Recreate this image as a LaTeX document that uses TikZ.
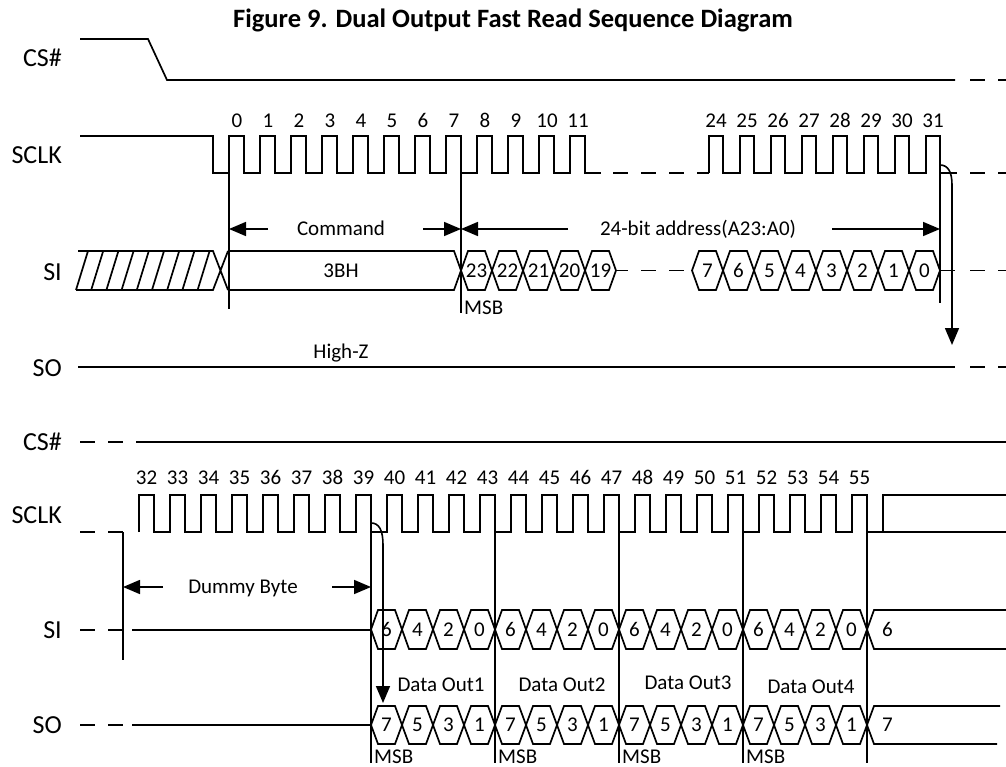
\documentclass[tikz,border=0pt]{standalone}
\usepackage{fontspec}
\setmainfont{Carlito}
\usetikzlibrary{arrows.meta}

\begin{document}
\begin{tikzpicture}
    [x=1pt,y=-1pt,
     wave/.style={line width=1.7pt},
     guide/.style={line width=1.3pt},
     brk/.style={line width=1.7pt,dash pattern=on 15pt off 13pt},
     dim/.style={-{Triangle[length=17pt,width=14pt]},line width=1.6pt},
     sig/.style={anchor=east,inner sep=0pt,font=\fontsize{26}{30}\selectfont},
     txt/.style={inner sep=0pt,text height=13.5pt,text depth=0pt,
       font=\fontsize{21}{25}\selectfont}]
  \useasboundingbox (0,0) rectangle (1006,767);
  \node[font=\bfseries\fontsize{26.5}{30}\selectfont] (title) at (513,20)
    {Figure 9. Dual Output Fast Read Sequence Diagram};

  % signal names
  \node[sig] (cs1) at (62,58) {CS\#};
  \node[sig] (sclk1) at (62,155) {SCLK};
  \node[sig] (si1) at (62,272) {SI};
  \node[sig] (so1) at (62,368) {SO};
  \node[sig] (cs2) at (62,442) {CS\#};
  \node[sig] (sclk2) at (62,515) {SCLK};
  \node[sig] (si2) at (62,630) {SI};
  \node[sig] (so2) at (62,725) {SO};

  % ---- first part: command and address ----
  \draw[wave] (80,39) -- (148,39) -- (167,80) -- (955,80);
  \draw[brk] (970,80) -- (1006,80);

  \draw[wave] (80,136) -- (213,136) -- (213,173) -- (229,173)
    \foreach \k in {0,...,11} {-- ++(0,-37) -- ++(15,0) -- ++(0,37) -- ++(16,0)};
  \draw[brk] (613,173) -- (709,173);
  \draw[wave] (709,173)
    \foreach \k in {24,...,31} {-- ++(0,-37) -- ++(14,0) -- ++(0,37) -- ++(17,0)};
  \draw[brk] (970,173) -- (1006,173);
  \foreach \n in {0,...,11} \node[txt] (c\n) at (237+31*\n,121) {\n};
  \foreach \n in {24,...,31} \node[txt] (c\n) at (31*\n-28,121) {\n};

  % don't care, then 3BH
  \draw[wave] (78,251) -- (213,251) -- (228,290) (76,290) -- (213,290) -- (228,251);
  \foreach \k in {0,...,8} \draw[wave] (76+15.2*\k,290) -- ++(12,-39);
  \draw[wave] (228,251) -- (454,251) -- (461,270.5) -- (454,290) -- (228,290);
  \node[txt] (cmdval) at (341,270.5) {3BH};

  \foreach \v [count=\i from 0] in {23,22,21,20,19} {
    \draw[wave] (461+31*\i,270.5) -- ++(7,-19.5) -- ++(17,0) -- ++(7,19.5)
      -- ++(-7,19.5) -- ++(-17,0) -- cycle;
    \node[txt] (a\v) at (476.5+31*\i,270.5) {\v};
  }
  \draw[wave] (616,270.5) -- (628,270.5);
  \draw[brk] (641,270.5) -- (692,270.5);
  \foreach \v [count=\i from 0] in {7,6,5,4,3,2,1,0} {
    \draw[wave] (692+31*\i,270.5) -- ++(7,-19.5) -- ++(17,0) -- ++(7,19.5)
      -- ++(-7,19.5) -- ++(-17,0) -- cycle;
    \node[txt] (b\v) at (707.5+31*\i,270.5) {\v};
  }
  \draw[wave] (940,270.5) -- (955,270.5);
  \draw[brk] (970,270.5) -- (1006,270.5);

  \draw[guide] (229,173) -- (229,309);
  \draw[guide] (461,173) -- (461,313);
  \draw[guide] (940,173) -- (940,303);

  \node[txt] (cmd) at (341,229) {Command};
  \coordinate (cmdL) at (268,229);
  \coordinate (cmdR) at (423,229);
  \coordinate (cmdS) at (229,229);
  \coordinate (cmdE) at (461,229);
  \draw[dim] (cmdL) -- (cmdS);
  \draw[dim] (cmdR) -- (cmdE);
  \node[txt] (addr) at (698,229) {24-bit address(A23:A0)};
  \coordinate (adrL) at (568,229);
  \coordinate (adrR) at (832,229);
  \coordinate (adrE) at (940,229);
  \draw[dim] (adrL) -- (cmdE);
  \draw[dim] (adrR) -- (adrE);
  \node[txt,anchor=west] (msb0) at (464,308) {MSB};

  \coordinate (turn1) at (940,165);
  \coordinate (out1) at (952,345);
  \draw[dim] (turn1) .. controls (948,165) and (952,172) .. (952,185) -- (out1);

  \draw[wave] (78,367) -- (955,367);
  \draw[brk] (970,367) -- (1006,367);
  \node[txt] (hiz) at (341,352) {High-Z};

  % ---- second part: dummy byte and data ----
  \draw[brk] (80,442) -- (1006,442);
  \draw[wave] (137,442) -- (1006,442);

  \draw[brk] (80,532) -- (123,532);
  \draw[wave] (139,532)
    \foreach \k in {32,...,55} {-- ++(0,-37) -- ++(15,0) -- ++(0,37) -- ++(16,0)}
    -- ++(0,-37) -- (1006,495);
  \draw[wave] (883,532) -- (1006,532);
  \foreach \n in {32,...,55} \node[txt] (c\n) at (31*\n-845.5,478) {\n};

  \draw[guide] (123,532) -- (123,660);
  \foreach \x in {371,495,619,743,867} \draw[guide] (\x,532) -- (\x,763);

  \node[txt] (dummy) at (243,587) {Dummy Byte};
  \coordinate (dumL) at (163,587);
  \coordinate (dumS) at (123,587);
  \coordinate (dumR) at (332,587);
  \coordinate (dumE) at (371,587);
  \draw[dim] (dumL) -- (dumS);
  \draw[dim] (dumR) -- (dumE);

  \coordinate (turn2) at (371,523);
  \coordinate (out2) at (383,703);
  \draw[dim] (turn2) .. controls (379,523) and (383,530) .. (383,545) -- (out2);

  \draw[brk] (80,630) -- (123,630);
  \draw[wave] (132,630) -- (371,630);
  \foreach \v [count=\i from 0] in {6,4,2,0,6,4,2,0,6,4,2,0,6,4,2,0} {
    \draw[wave] (371+31*\i,629.5) -- ++(7,-19.5) -- ++(17,0) -- ++(7,19.5)
      -- ++(-7,19.5) -- ++(-17,0) -- cycle;
    \node[txt] (i\i) at (386.5+31*\i,629.5) {\v};
  }
  \draw[wave] (1006,610) -- (874,610) -- (867,629.5) -- (874,649) -- (1006,649);
  \node[txt,anchor=west] (inext) at (882,629.5) {6};

  \draw[brk] (80,725) -- (123,725);
  \draw[wave] (132,725) -- (371,725);
  \foreach \v [count=\i from 0] in {7,5,3,1,7,5,3,1,7,5,3,1,7,5,3,1} {
    \draw[wave] (371+31*\i,725) -- ++(7,-19) -- ++(17,0) -- ++(7,19)
      -- ++(-7,19) -- ++(-17,0) -- cycle;
    \node[txt] (o\i) at (386.5+31*\i,725) {\v};
  }
  \draw[wave] (1000,706) -- (874,706) -- (867,725) -- (874,744) -- (997,744);
  \node[txt,anchor=west] (onext) at (882,725) {7};

  \node[txt] (out1txt) at (441,685) {Data Out1};
  \node[txt] (out2txt) at (562,685) {Data Out2};
  \node[txt] (out3txt) at (688,683) {Data Out3};
  \node[txt] (out4txt) at (811,687) {Data Out4};
  \foreach \x [count=\i] in {374,498,622,746}
    \node[txt,anchor=west] (msb\i) at (\x,757) {MSB};
\end{tikzpicture}
\end{document}
